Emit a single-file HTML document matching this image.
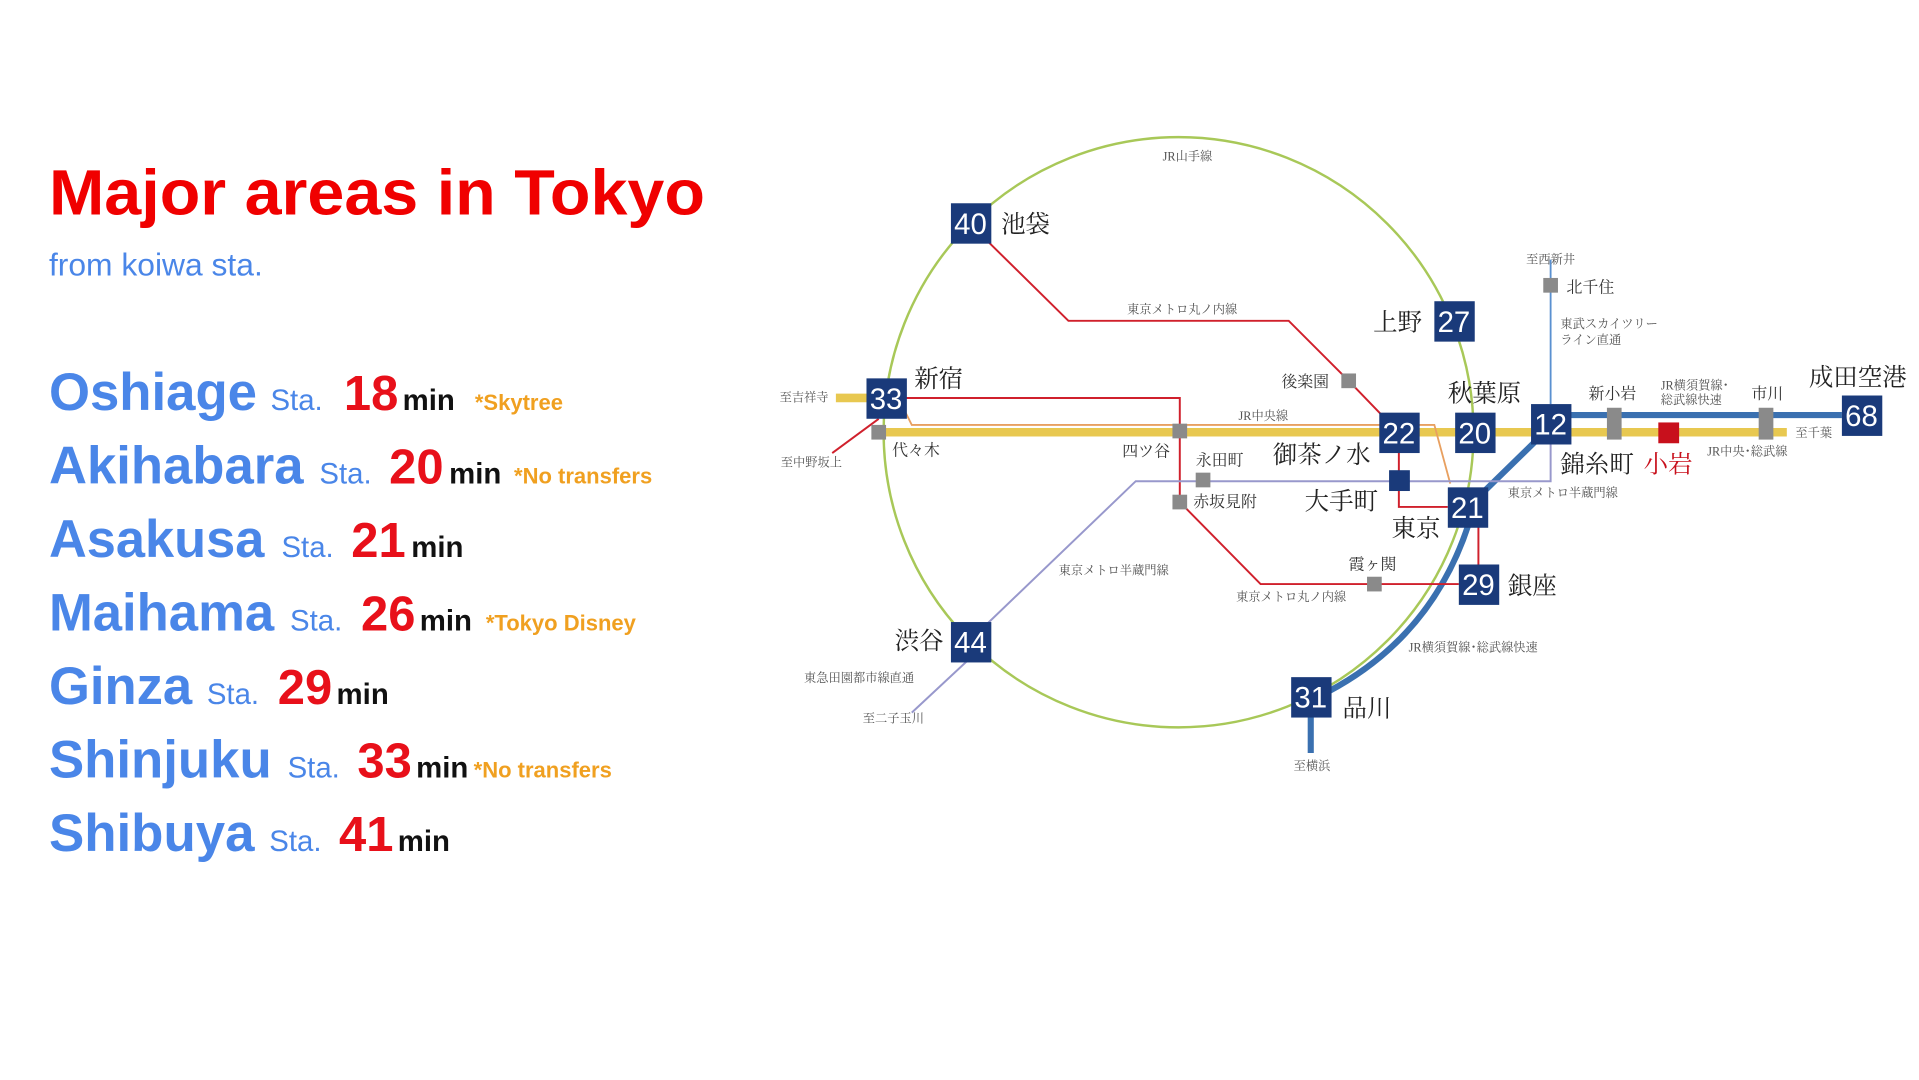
<!DOCTYPE html>
<html><head><meta charset="utf-8"><style>
html,body{margin:0;padding:0;background:#fff;}
svg{display:block;}
.j{font-family:"Liberation Serif","Noto Serif CJK JP","Noto Serif CJK SC",serif;}
.s{font-size:10px;fill:#555;}
.n{font-family:"Liberation Sans",sans-serif;font-size:24px;fill:#fff;text-anchor:middle;}
.big{font-size:20px;fill:#222;}
.nm{font-size:43px;font-weight:bold;fill:#4a86e8;}
.st{font-size:24px;fill:#4a86e8;}
.nu{font-size:40px;font-weight:bold;fill:#e8101a;}
.mi{font-size:24px;font-weight:bold;fill:#111;}
.no{font-size:18px;font-weight:bold;fill:#f0a020;}
</style></head><body>
<svg width="1919" height="1080" viewBox="0 0 1568 882" preserveAspectRatio="none" xmlns="http://www.w3.org/2000/svg">
<rect width="1568" height="882" fill="#fff"/>
<g font-family="Liberation Sans, sans-serif">
<text x="40" y="175" font-size="52" font-weight="bold" fill="#f00000" textLength="536" lengthAdjust="spacingAndGlyphs">Major areas in Tokyo</text>
<text x="40" y="225" font-size="26" fill="#4a86e8">from koiwa sta.</text>

<text class="nm" x="40" y="335" textLength="170" lengthAdjust="spacingAndGlyphs">Oshiage</text><text class="st" x="221" y="335">Sta.</text><text class="nu" x="281" y="335">18</text><text class="mi" x="329" y="335">min</text><text class="no" x="388" y="335">*Skytree</text>
<text class="nm" x="40" y="395" textLength="208" lengthAdjust="spacingAndGlyphs">Akihabara</text><text class="st" x="261" y="395">Sta.</text><text class="nu" x="318" y="395">20</text><text class="mi" x="367" y="395">min</text><text class="no" x="420" y="395">*No transfers</text>
<text class="nm" x="40" y="455" textLength="176" lengthAdjust="spacingAndGlyphs">Asakusa</text><text class="st" x="230" y="455">Sta.</text><text class="nu" x="287" y="455">21</text><text class="mi" x="336" y="455">min</text>
<text class="nm" x="40" y="515" textLength="184" lengthAdjust="spacingAndGlyphs">Maihama</text><text class="st" x="237" y="515">Sta.</text><text class="nu" x="295" y="515">26</text><text class="mi" x="343" y="515">min</text><text class="no" x="397" y="515">*Tokyo Disney</text>
<text class="nm" x="40" y="575" textLength="117" lengthAdjust="spacingAndGlyphs">Ginza</text><text class="st" x="169" y="575">Sta.</text><text class="nu" x="227" y="575">29</text><text class="mi" x="275" y="575">min</text>
<text class="nm" x="40" y="635" textLength="182" lengthAdjust="spacingAndGlyphs">Shinjuku</text><text class="st" x="235" y="635">Sta.</text><text class="nu" x="292" y="635">33</text><text class="mi" x="340" y="635">min</text><text class="no" x="387" y="635">*No transfers</text>
<text class="nm" x="40" y="695" textLength="168" lengthAdjust="spacingAndGlyphs">Shibuya</text><text class="st" x="220" y="695">Sta.</text><text class="nu" x="277" y="695">41</text><text class="mi" x="325" y="695">min</text>
</g>

<!-- map -->
<ellipse cx="963" cy="353" rx="241" ry="241" fill="none" stroke="#a8c858" stroke-width="2"/>
<line x1="683" y1="325" x2="710" y2="325" stroke="#e8c850" stroke-width="7"/>
<line x1="718" y1="353" x2="1460" y2="353" stroke="#e8c850" stroke-width="7"/>
<polyline points="738,333 745,347 1172,347 1185,395" fill="none" stroke="#e8a060" stroke-width="1.5"/>
<line x1="1283" y1="339" x2="1505" y2="339" stroke="#3a70b0" stroke-width="5"/>
<line x1="1255" y1="360" x2="1212" y2="402" stroke="#3a70b0" stroke-width="5"/>
<path d="M1200,428 Q1170,520 1085,565" fill="none" stroke="#3a70b0" stroke-width="5"/>
<line x1="1071" y1="585" x2="1071" y2="615" stroke="#3a70b0" stroke-width="5"/>
<line x1="1267" y1="212" x2="1267" y2="330" stroke="#5a90d0" stroke-width="1.5"/>
<g fill="none" stroke="#d0202c" stroke-width="1.6">
<polyline points="808,198 873,262 1053,262 1102,311 1130,340"/>
<polyline points="740,325 964,325 964,410 1030,477 1192,477"/>
<polyline points="718,342 680,370"/>
<polyline points="1143,370 1143,414 1183,414"/>
<line x1="1208" y1="430" x2="1208" y2="462"/>
</g>
<g fill="none" stroke="#9898cc" stroke-width="1.6">
<polyline points="806,510 928,393 1267,393 1267,362"/>
<line x1="790" y1="540" x2="745" y2="582"/>
</g>
<g fill="#8a8a8a">
<rect x="712" y="347" width="12" height="12"/>
<rect x="958" y="346" width="12" height="12"/>
<rect x="977" y="386" width="12" height="12"/>
<rect x="958" y="404" width="12" height="12"/>
<rect x="1096" y="305" width="12" height="12"/>
<rect x="1117" y="471" width="12" height="12"/>
<rect x="1261" y="227" width="12" height="12"/>
<rect x="1313" y="333" width="12" height="26"/>
<rect x="1437" y="333" width="12" height="26"/>
</g>
<rect x="1355" y="345" width="17" height="17" fill="#c8101c"/>
<rect x="1135" y="384" width="17" height="17" fill="#1a3a7a"/>
<g fill="#1a3a7a">
<rect x="777" y="166" width="33" height="33"/>
<rect x="708" y="309" width="33" height="33"/>
<rect x="777" y="508" width="33" height="33"/>
<rect x="1055" y="553" width="33" height="33"/>
<rect x="1127" y="337" width="33" height="33"/>
<rect x="1189" y="337" width="33" height="33"/>
<rect x="1251" y="330" width="33" height="33"/>
<rect x="1172" y="246" width="33" height="33"/>
<rect x="1183" y="398" width="33" height="33"/>
<rect x="1192" y="461" width="33" height="33"/>
<rect x="1505" y="323" width="33" height="33"/>
</g>
<g class="n">
<text x="793" y="191">40</text><text x="724" y="334">33</text><text x="793" y="533">44</text>
<text x="1071" y="578">31</text><text x="1143" y="362">22</text><text x="1205" y="362">20</text>
<text x="1267" y="355">12</text><text x="1188" y="271">27</text><text x="1199" y="423">21</text>
<text x="1208" y="486">29</text><text x="1521" y="348">68</text>
</g>
<g class="j">
<text class="big" x="818" y="190">池袋</text>
<text class="big" x="747" y="316">新宿</text>
<text class="big" x="731" y="530">渋谷</text>
<text class="big" x="1097" y="585">品川</text>
<text class="big" x="1040" y="378">御茶ノ水</text>
<text class="big" x="1183" y="328">秋葉原</text>
<text class="big" x="1275" y="386">錦糸町</text>
<text x="1343" y="386" font-size="20" fill="#c8101c">小岩</text>
<text class="big" x="1122" y="270">上野</text>
<text class="big" x="1137" y="438">東京</text>
<text class="big" x="1232" y="485">銀座</text>
<text class="big" x="1066" y="416">大手町</text>
<text class="big" x="1478" y="315">成田空港</text>
<g font-size="13" fill="#333">
<text x="729" y="372">代々木</text><text x="917" y="373">四ツ谷</text><text x="977" y="380">永田町</text>
<text x="975" y="414">赤坂見附</text><text x="1047" y="316">後楽園</text><text x="1102" y="465">霞ヶ関</text>
<text x="1280" y="239">北千住</text><text x="1298" y="326">新小岩</text><text x="1431" y="326">市川</text>
</g>
<g class="s">
<text x="950" y="131">JR山手線</text>
<text x="921" y="256">東京メトロ丸ノ内線</text>
<text x="1012" y="343">JR中央線</text>
<text x="637" y="328">至吉祥寺</text>
<text x="638" y="381">至中野坂上</text>
<text x="865" y="469">東京メトロ半蔵門線</text>
<text x="1010" y="491">東京メトロ丸ノ内線</text>
<text x="1232" y="406">東京メトロ半蔵門線</text>
<text x="1151" y="532">JR横須賀線･総武線快速</text>
<text x="657" y="557">東急田園都市線直通</text>
<text x="705" y="590">至二子玉川</text>
<text x="1057" y="629">至横浜</text>
<text x="1247" y="215">至西新井</text>
<text x="1275" y="268">東武スカイツリー</text>
<text x="1275" y="281">ライン直通</text>
<text x="1357" y="318">JR横須賀線･</text>
<text x="1357" y="330">総武線快速</text>
<text x="1467" y="357">至千葉</text>
<text x="1395" y="372">JR中央･総武線</text>
</g></g>
</svg>
</body></html>
